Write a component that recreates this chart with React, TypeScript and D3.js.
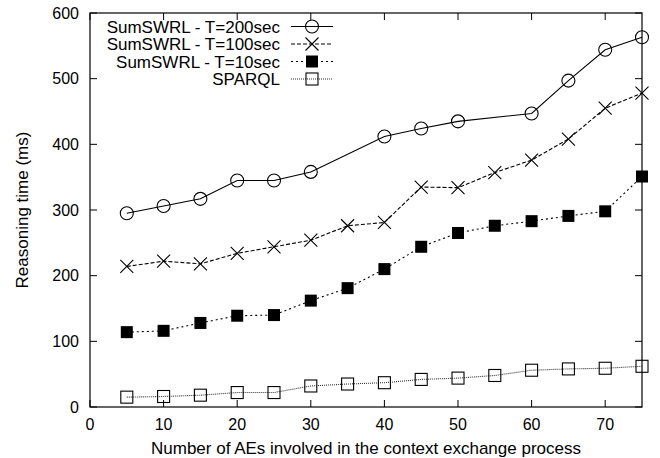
import React from "react";
import * as d3 from "d3";

const xT200 = [5, 10, 15, 20, 25, 30, 40, 45, 50, 60, 65, 70, 75];
const yT200 = [295, 306, 317, 345, 345, 358, 412, 424, 435, 447, 497, 544, 563];
const xAll = [5, 10, 15, 20, 25, 30, 35, 40, 45, 50, 55, 60, 65, 70, 75];
const yT100 = [214, 222, 218, 234, 244, 254, 276, 281, 335, 334, 357, 376, 408, 455, 478];
const yT10 = [114, 116, 128, 139, 140, 162, 181, 210, 244, 265, 276, 283, 291, 298, 351];
const ySparql = [15, 16, 18, 22, 22, 32, 35, 37, 42, 44, 48, 56, 58, 59, 62];

const xTicks = [0, 10, 20, 30, 40, 50, 60, 70];
const yTicks = [0, 100, 200, 300, 400, 500, 600];
const seriesNames = ["SumSWRL - T=200sec", "SumSWRL - T=100sec", "SumSWRL - T=10sec", "SPARQL"];

const W = 660, H = 458;
const M = { left: 90, right: 642, top: 13, bottom: 407 };
const FONT = "'Liberation Sans', Arial, Helvetica, sans-serif";

type Kind = "circle" | "cross" | "fsquare" | "osquare";

function Marker({ x, y, kind }: { x: number; y: number; kind: Kind }) {
  if (kind === "circle") return <circle cx={x} cy={y} r={6.5} fill="none" stroke="#000" strokeWidth={1.1} />;
  if (kind === "cross") {
    const s = 6.5;
    return (
      <path d={`M${x - s},${y - s}L${x + s},${y + s}M${x - s},${y + s}L${x + s},${y - s}`} stroke="#000" strokeWidth={1.1} />
    );
  }
  if (kind === "fsquare") return <rect x={x - 6} y={y - 6} width={12} height={12} fill="#000" />;
  return <rect x={x - 6} y={y - 6} width={12} height={12} fill="none" stroke="#000" strokeWidth={1.1} />;
}

export default function App() {
  const x = d3.scaleLinear().domain([0, 75]).range([M.left, M.right]);
  const y = d3.scaleLinear().domain([0, 600]).range([M.bottom, M.top]);
  const line = d3.line<[number, number]>().x((d) => x(d[0])).y((d) => y(d[1]));

  const series: { name: string; pts: [number, number][]; kind: Kind; dash: string; color: string }[] = [
    { name: seriesNames[0], pts: xT200.map((v, i) => [v, yT200[i]] as [number, number]), kind: "circle", dash: "none", color: "#000" },
    { name: seriesNames[1], pts: xAll.map((v, i) => [v, yT100[i]] as [number, number]), kind: "cross", dash: "4,2", color: "#000" },
    { name: seriesNames[2], pts: xAll.map((v, i) => [v, yT10[i]] as [number, number]), kind: "fsquare", dash: "2,3", color: "#000" },
    { name: seriesNames[3], pts: xAll.map((v, i) => [v, ySparql[i]] as [number, number]), kind: "osquare", dash: "1,1", color: "#333" },
  ];

  const tickLen = 7;
  return (
    <svg width={W} height={H} style={{ position: "absolute", left: 0, top: 0, background: "#fff" }} fontFamily={FONT}>
      <rect width={W} height={H} fill="#fff" />
      {xTicks.map((t) => (
        <g key={"xt" + t}>
          <line x1={x(t)} x2={x(t)} y1={M.bottom} y2={M.bottom - tickLen} stroke="#000" />
          <line x1={x(t)} x2={x(t)} y1={M.top} y2={M.top + tickLen} stroke="#000" />
          <text x={x(t)} y={430} textAnchor="middle" fontSize={16} fill="#000">{t}</text>
        </g>
      ))}
      {yTicks.map((t) => (
        <g key={"yt" + t}>
          <line x1={M.left} x2={M.left + tickLen} y1={y(t)} y2={y(t)} stroke="#000" />
          <line x1={M.right} x2={M.right - tickLen} y1={y(t)} y2={y(t)} stroke="#000" />
          <text x={79} y={y(t) + 5.5} textAnchor="end" fontSize={16} fill="#000">{t}</text>
        </g>
      ))}
      <rect x={M.left} y={M.top} width={M.right - M.left} height={M.bottom - M.top} fill="none" stroke="#000" strokeWidth={1.2} />
      {series.map((s) => (
        <g key={s.name}>
          <path d={line(s.pts) || ""} fill="none" stroke={s.color} strokeWidth={1.1} strokeDasharray={s.dash} />
          {s.pts.map((p, i) => (
            <Marker key={i} x={x(p[0])} y={y(p[1])} kind={s.kind} />
          ))}
        </g>
      ))}
      {series.map((s, i) => {
        const ly = 26.5 + i * 17.5;
        return (
          <g key={"lg" + i}>
            <text x={280} y={ly + 6} textAnchor="end" fontSize={17} fill="#000">{s.name}</text>
            <line x1={291} x2={333} y1={ly} y2={ly} stroke={s.color} strokeWidth={1.1} strokeDasharray={s.dash} />
            <Marker x={312} y={ly} kind={s.kind} />
          </g>
        );
      })}
      <text x={(M.left + M.right) / 2} y={454} textAnchor="middle" fontSize={17} fill="#000">
        Number of AEs involved in the context exchange process
      </text>
      <text transform={`translate(28,${(M.top + M.bottom) / 2}) rotate(-90)`} textAnchor="middle" fontSize={17} fill="#000">
        Reasoning time (ms)
      </text>
    </svg>
  );
}
